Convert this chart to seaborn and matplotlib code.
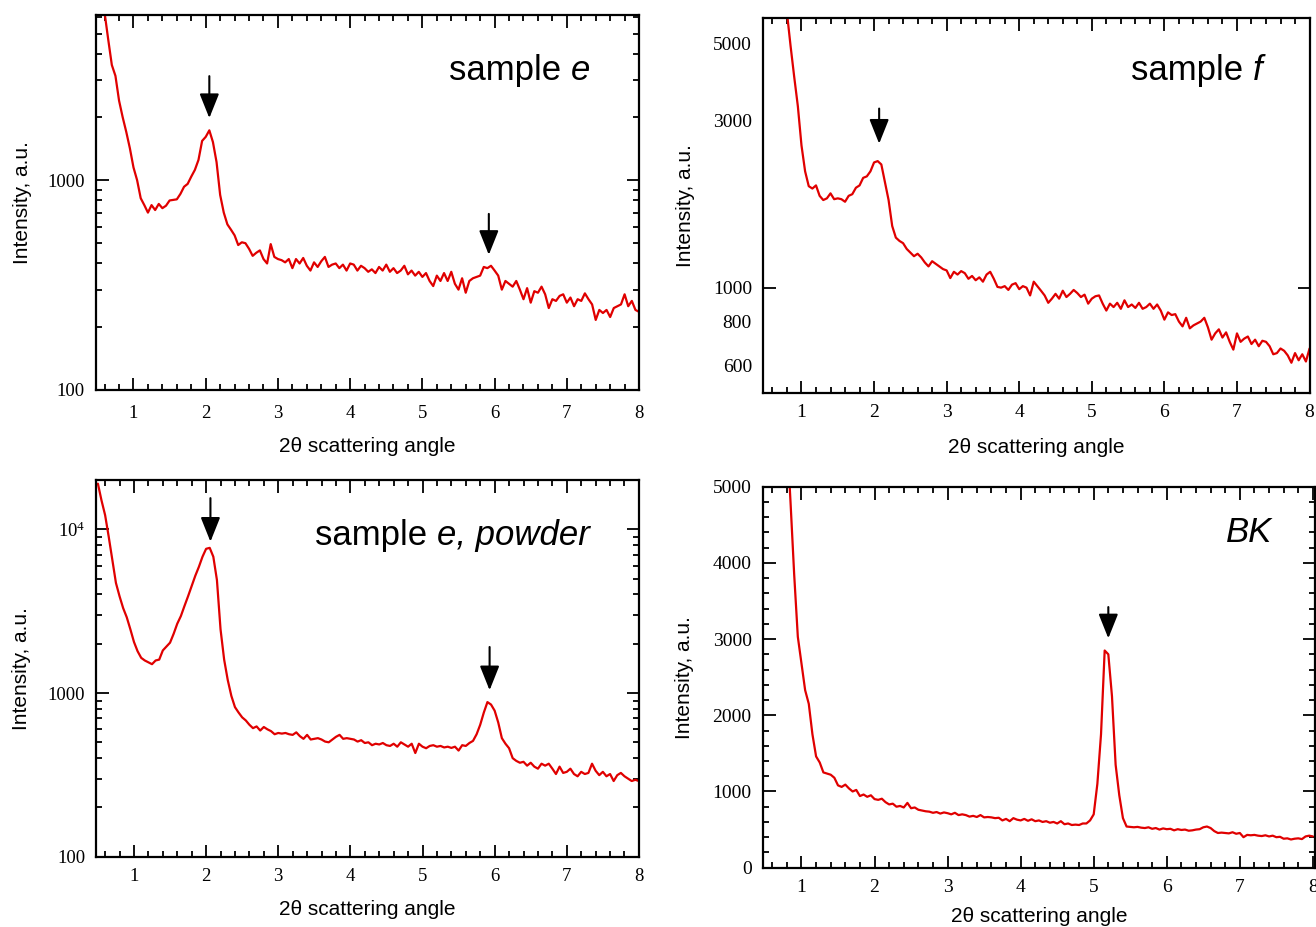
import numpy as np
import matplotlib
matplotlib.use("Agg")
import matplotlib.pyplot as plt
import seaborn as sns
from matplotlib.ticker import (FixedLocator, MultipleLocator, FuncFormatter,
                               NullFormatter, LogLocator, FixedFormatter)

# measurement grid of the scattering angle (2theta, degrees)
angle = np.round(np.arange(0.50, 8.0001, 0.05), 2)

sample_e = [
    9000, 7500, 6300, 4700, 3550, 3150, 2400, 2000, 1700, 1420,
    1150, 1000, 820, 760, 700, 760, 720, 770, 735, 755,
    800, 805, 810, 860, 930, 960, 1040, 1120, 1250, 1540,
    1610, 1730, 1520, 1220, 850, 700, 615, 580, 545, 490,
    505, 500, 470, 435, 450, 462, 420, 400, 495, 430,
    420, 415, 405, 420, 380, 420, 400, 425, 390, 370,
    405, 385, 410, 430, 385, 395, 400, 380, 395, 370,
    400, 395, 370, 390, 380, 365, 375, 360, 385, 370,
    395, 365, 380, 360, 370, 390, 355, 370, 350, 365,
    345, 360, 330, 312, 350, 330, 360, 330, 365, 320,
    300, 340, 290, 330, 340, 345, 350, 385, 380, 390,
    370, 350, 300, 330, 320, 310, 330, 300, 270, 305,
    260, 295, 290, 310, 285, 245, 270, 265, 280, 285,
    260, 275, 250, 270, 265, 288, 270, 255, 215, 240,
    232, 240, 222, 245, 250, 255, 285, 250, 265, 240,
    235]

sample_f = [
    12000, 10000, 9000, 8000, 7200, 6500, 6100, 4900, 4000, 3300,
    2550, 2150, 1950, 1920, 1960, 1830, 1780, 1800, 1860, 1790,
    1800, 1790, 1760, 1830, 1850, 1930, 1960, 2060, 2080, 2150,
    2280, 2300, 2250, 2000, 1780, 1500, 1390, 1360, 1340, 1290,
    1260, 1230, 1250, 1220, 1180, 1150, 1190, 1170, 1150, 1130,
    1120, 1065, 1110, 1090, 1115, 1100, 1060, 1080, 1050, 1070,
    1040, 1090, 1110, 1060, 1005, 1000, 1010, 985, 1020, 1030,
    990, 1010, 1000, 950, 1040, 1010, 980, 950, 905, 930,
    960, 930, 980, 940, 960, 985, 965, 940, 955, 900,
    930, 945, 950, 900, 860, 900, 880, 905, 870, 920,
    880, 895, 875, 905, 870, 880, 900, 870, 895, 860,
    810, 850, 835, 840, 800, 775, 820, 765, 780, 790,
    800, 820, 770, 710, 740, 760, 720, 745, 700, 665,
    740, 700, 715, 725, 690, 710, 680, 705, 700, 680,
    645, 650, 670, 660, 640, 610, 650, 620, 645, 615,
    670]

sample_e_powder = [
    19000, 15000, 12200, 9000, 6500, 4700, 3900, 3300, 2900, 2450,
    2050, 1800, 1640, 1580, 1540, 1500, 1580, 1600, 1820, 1920,
    2030, 2300, 2650, 2950, 3400, 3900, 4500, 5200, 5900, 6800,
    7600, 7700, 6800, 4900, 2450, 1600, 1200, 960, 820, 760,
    710, 680, 640, 610, 625, 590, 620, 600, 585, 560,
    570, 565, 570, 560, 555, 575, 545, 525, 555, 520,
    525, 530, 520, 505, 500, 520, 540, 555, 525, 530,
    525, 520, 505, 515, 495, 500, 480, 490, 485, 495,
    480, 475, 490, 470, 500, 485, 470, 490, 430, 490,
    470, 460, 475, 480, 470, 475, 465, 470, 462, 470,
    445, 480, 475, 495, 510, 560, 640, 760, 880, 850,
    780, 660, 530, 490, 460, 400, 385, 375, 380, 360,
    375, 355, 345, 370, 360, 370, 345, 320, 355, 325,
    330, 345, 320, 310, 330, 320, 325, 370, 335, 315,
    330, 310, 320, 290, 315, 325, 310, 300, 290, 295,
    290]

bk = [
    20000, 15000, 11000, 9000, 7500, 6500, 5700, 4800, 3850, 3030,
    2680, 2330, 2150, 1750, 1460, 1380, 1250, 1235, 1220, 1180,
    1080, 1060, 1090, 1040, 1000, 1020, 940, 960, 930, 950,
    900, 890, 905, 860, 830, 840, 800, 810, 790, 850,
    780, 790, 760, 750, 740, 735, 720, 730, 710, 725,
    715, 700, 720, 690, 700, 690, 670, 680, 665, 690,
    660, 665, 660, 650, 655, 620, 640, 610, 650, 630,
    620, 640, 615, 635, 610, 620, 600, 610, 590, 600,
    580, 610, 570, 580, 560, 565, 560, 580, 580, 620,
    700, 1100, 1750, 2850, 2800, 2250, 1350, 950, 650, 540,
    535, 530, 535, 525, 520, 530, 510, 520, 500, 515,
    505, 510, 490, 505, 495, 500, 485, 490, 500, 505,
    530, 540, 520, 480, 455, 460, 455, 450, 465, 445,
    455, 400, 430, 425, 430, 420, 415, 425, 410, 420,
    400, 405, 380, 385, 370, 380, 385, 375, 410, 420,
    410]

# panel labels: (upright part, italic part)
titles = [("sample ", "e"), ("sample ", "f"), ("sample ", "e, powder"), ("", "BK")]
x_label = "2θ scattering angle"
y_label = "Intensity, a.u."

# arrows: (angle, tail value, tip value)
arrows_e = [(2.05, 3140, 1980), (5.92, 690, 440)]
arrows_f = [(2.07, 3250, 2580)]
arrows_ep = [(2.06, 15500, 8400), (5.93, 1910, 1040)]
arrows_bk = [(5.20, 3420, 3010)]

sns.set_theme(style="ticks")
plt.rcParams['font.family'] = ['Liberation Sans', 'DejaVu Sans']
plt.rcParams['mathtext.fontset'] = 'custom'
plt.rcParams['mathtext.rm'] = 'Liberation Serif'
plt.rcParams['mathtext.it'] = 'Liberation Serif:italic'

RED = '#e00000'
fig = plt.figure(figsize=(13.16, 9.27), dpi=100)

positions = [
    [0.0729, 0.5798, 0.4127, 0.4040],
    [0.5798, 0.5761, 0.4153, 0.4045],
    [0.0733, 0.0758, 0.4122, 0.4064],
    [0.5796, 0.0640, 0.4197, 0.4110],
]
series = [sample_e, sample_f, sample_e_powder, bk]
arrows = [arrows_e, arrows_f, arrows_ep, arrows_bk]
xlims = [(0.48, 8.0), (0.47, 8.0), (0.48, 8.0), (0.47, 8.03)]
title_pos = [(0.91, 0.853), (0.914, 0.86), (0.91, 0.854), (0.922, 0.879)]
ylabelpads = [11, 13, 12, 13]
xtickpads = [11, 8, 8, 8]
xlabelpads = [11, 12.5, 11, 8]
ticksizes = [13.5, 14, 13.5, 14]

for i in range(4):
    ax = fig.add_axes(positions[i])
    sns.lineplot(x=angle, y=np.array(series[i], dtype=float), ax=ax,
                 color=RED, linewidth=1.6, estimator=None)
    ax.set_xlim(*xlims[i])
    if i == 0:
        ax.set_yscale('log')
        ax.set_ylim(100, 6150)
        ax.yaxis.set_major_locator(FixedLocator([100, 1000]))
        ax.yaxis.set_major_formatter(FixedFormatter(["100", "1000"]))
        ax.yaxis.set_minor_locator(LogLocator(base=10, subs=np.arange(2, 10)))
        ax.yaxis.set_minor_formatter(NullFormatter())
    elif i == 1:
        ax.set_yscale('log')
        ax.set_ylim(500, 5900)
        ax.yaxis.set_major_locator(FixedLocator([1000]))
        ax.yaxis.set_major_formatter(FixedFormatter(["1000"]))
        ax.yaxis.set_minor_locator(FixedLocator([600, 800, 3000, 5000]))
        ax.yaxis.set_minor_formatter(FixedFormatter(["600", "800", "3000", "5000"]))
    elif i == 2:
        ax.set_yscale('log')
        ax.set_ylim(100, 20000)
        ax.yaxis.set_major_locator(FixedLocator([100, 1000, 10000]))
        ax.yaxis.set_major_formatter(FixedFormatter(["100", "1000", r"$\mathrm{10}^{4}$"]))
        ax.yaxis.set_minor_locator(LogLocator(base=10, subs=np.arange(2, 10)))
        ax.yaxis.set_minor_formatter(NullFormatter())
    else:
        ax.set_ylim(0, 5000)
        ax.yaxis.set_major_locator(MultipleLocator(1000))
        ax.yaxis.set_minor_locator(MultipleLocator(200))
        ax.yaxis.set_major_formatter(FuncFormatter(lambda v, p: f"{int(v)}"))

    ax.xaxis.set_major_locator(MultipleLocator(1))
    ax.xaxis.set_minor_locator(MultipleLocator(0.2))
    ax.xaxis.set_major_formatter(FuncFormatter(lambda v, p: f"{int(round(v))}"))

    ax.tick_params(which='both', direction='in', top=True, right=True,
                   color='black', labelcolor='black',
                   labelfontfamily='Liberation Serif', labelsize=ticksizes[i])
    ax.tick_params(which='major', length=9, width=1.3, pad=8)
    ax.tick_params(which='minor', length=4.5, width=1.3, pad=8)
    ax.tick_params(axis='x', which='both', pad=xtickpads[i])
    if i == 1:
        ax.tick_params(axis='y', which='minor', length=0)
    for s in ax.spines.values():
        s.set_linewidth(1.6)
        s.set_color('black')

    ax.set_xlabel(x_label, fontsize=15, labelpad=xlabelpads[i], color='black')
    ax.set_ylabel(y_label, fontsize=15, labelpad=ylabelpads[i], color='black')
    ax.grid(False)

    tx, ty = title_pos[i]
    plain, ital = titles[i]
    t_it = ax.text(tx, ty, ital, transform=ax.transAxes, ha='right', va='center',
                   fontsize=25, fontstyle='italic', color='black')
    if plain:
        ax.annotate(plain, xy=(0, 0), xycoords=t_it, ha='right', va='bottom',
                    fontsize=25, color='black')

    for (ax_x, tail, tip) in arrows[i]:
        ax.annotate('', xy=(ax_x, tip), xytext=(ax_x, tail),
                    arrowprops=dict(arrowstyle='-|>,head_length=0.75,head_width=0.3',
                                    mutation_scale=20, color='black', lw=1.5,
                                    shrinkA=0, shrinkB=0))

fig.savefig("out.png", dpi=100)
